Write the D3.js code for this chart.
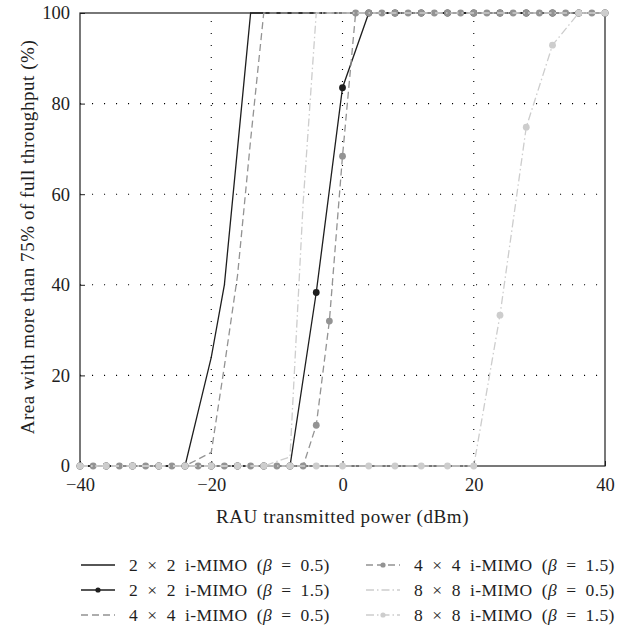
<!DOCTYPE html>
<html>
<head>
<meta charset="utf-8">
<script src="https://cdn.jsdelivr.net/npm/d3@7"></script>
<style>
  body { margin: 0; background: #fff; }
  text { font-family: "Liberation Serif", "Times New Roman", serif; fill: #1e1e1e; }
</style>
</head>
<body>
<svg id="chart" width="631" height="631"></svg>
<script>
// x values (dBm) used by the series
var power2 = [-40,-38,-36,-34,-32,-30,-28,-26,-24,-22,-20,-18,-16,-14,-12,-10,-8,-6,-4,-2,
              0,2,4,6,8,10,12,14,16,18,20,22,24,26,28,30,32,34,36,38,40];
var power4 = [-40,-36,-32,-28,-24,-20,-16,-12,-8,-4,0,4,8,12,16,20,24,28,32,36,40];

// area (%) with more than 75% of full throughput
var mimo2b05 = [0,0,0,0,0,0,0,0,0,12,24,40,70,100,100,100,100,100,100,100,
                100,100,100,100,100,100,100,100,100,100,100,100,100,100,100,100,100,100,100,100,100];
var mimo2b15 = [0,0,0,0,0,0,0,0,0,38.3,83.5,100,100,100,100,100,100,100,100,100,100];
var mimo4b05 = [0,0,0,0,0,0,0,0,0,1.5,3,22,42,72,100,100,100,100,100,100,
                100,100,100,100,100,100,100,100,100,100,100,100,100,100,100,100,100,100,100,100,100];
var mimo4b15 = [0,0,0,0,0,0,0,0,0,0,0,0,0,0,0,0,0,0,9,32,
                68.4,100,100,100,100,100,100,100,100,100,100,100,100,100,100,100,100,100,100,100,100];
var mimo8b05 = [0,0,0,0,0,0,0,0,0,0,0,0,0,0,0,1,2,58,100,100,
                100,100,100,100,100,100,100,100,100,100,100,100,100,100,100,100,100,100,100,100,100];
var mimo8b15 = [0,0,0,0,0,0,0,0,0,0,0,0,0,0,0,0,33.3,74.8,92.9,100,100];

var xTicks = [-40,-20,0,20,40];
var yTicks = [0,20,40,60,80,100];
var xGrid = [-20,0,20];
var yGrid = [20,40,60,80];

var seriesNames = ["2 \u00d7 2 i-MIMO (\u03b2 = 0.5)", "2 \u00d7 2 i-MIMO (\u03b2 = 1.5)",
                   "4 \u00d7 4 i-MIMO (\u03b2 = 0.5)", "4 \u00d7 4 i-MIMO (\u03b2 = 1.5)",
                   "8 \u00d7 8 i-MIMO (\u03b2 = 0.5)", "8 \u00d7 8 i-MIMO (\u03b2 = 1.5)"];

var black = "#1e1e1e", mid = "#939393", light = "#cdcdcd";
var series = [
  {name: seriesNames[0], xs: power2, ys: mimo2b05, color: black, dash: null, marker: false},
  {name: seriesNames[1], xs: power4, ys: mimo2b15, color: black, dash: null, marker: true},
  {name: seriesNames[2], xs: power2, ys: mimo4b05, color: mid, dash: "7,4", marker: false},
  {name: seriesNames[3], xs: power2, ys: mimo4b15, color: mid, dash: "7,4", marker: true},
  {name: seriesNames[4], xs: power2, ys: mimo8b05, color: light, dash: "8,3,1.5,3", marker: false},
  {name: seriesNames[5], xs: power4, ys: mimo8b15, color: light, dash: "8,3,1.5,3", marker: true}
];

var svg = d3.select("#chart");
var plotL = 80, plotR = 605, plotT = 13, plotB = 466;
var x = d3.scaleLinear().domain([-40, 40]).range([plotL, plotR]);
var y = d3.scaleLinear().domain([0, 100]).range([plotB, plotT]);

// dotted grid
var grid = svg.append("g").attr("id", "grid");
grid.selectAll(".gx").data(xGrid).enter().append("line")
  .attr("x1", d => x(d)).attr("x2", d => x(d)).attr("y1", plotB).attr("y2", plotT)
  .attr("stroke", "#000").attr("stroke-width", 1.1).attr("stroke-dasharray", "1.1,10.9");
grid.selectAll(".gy").data(yGrid).enter().append("line")
  .attr("x1", plotL).attr("x2", plotR).attr("y1", d => y(d)).attr("y2", d => y(d))
  .attr("stroke", "#000").attr("stroke-width", 1.1).attr("stroke-dasharray", "1.1,10.9");

// axes
var xAxis = d3.axisBottom(x).tickValues(xTicks).tickSizeInner(-5).tickSizeOuter(0).tickPadding(12);
var yAxis = d3.axisLeft(y).tickValues(yTicks).tickSizeInner(-5).tickSizeOuter(0).tickPadding(10);
var gx = svg.append("g").attr("transform", "translate(0," + plotB + ")").call(xAxis);
var gy = svg.append("g").attr("transform", "translate(" + plotL + ",0)").call(yAxis);
[gx, gy].forEach(function(g){
  g.select(".domain").remove();
  g.selectAll(".tick line").attr("stroke", black).attr("stroke-width", 1);
  g.selectAll(".tick text").style("font-size", "18.5px").attr("fill", black)
    .style("font-family", '"Liberation Serif", serif');
});

svg.append("rect").attr("x", plotL).attr("y", plotT)
  .attr("width", plotR - plotL).attr("height", plotB - plotT)
  .attr("fill", "none").attr("stroke", black).attr("stroke-width", 1.2);

// data
var line = d3.line().x(d => x(d[0])).y(d => y(d[1]));
series.forEach(function(s){
  var pts = s.xs.map(function(v, i){ return [v, s.ys[i]]; });
  var g = svg.append("g");
  g.append("path").attr("d", line(pts))
    .attr("fill", "none").attr("stroke", s.color).attr("stroke-width", 1.3)
    .attr("stroke-dasharray", s.dash);
  if (s.marker) {
    g.selectAll("circle").data(pts).enter().append("circle")
      .attr("cx", d => x(d[0])).attr("cy", d => y(d[1])).attr("r", 3.4)
      .attr("fill", s.color);
  }
});

// axis titles
svg.append("text").attr("x", (plotL + plotR) / 2).attr("y", 523)
  .attr("text-anchor", "middle").style("font-size", "19px").style("letter-spacing", "0.6px")
  .text("RAU transmitted power (dBm)");
svg.append("text").attr("transform", "translate(34,237) rotate(-90)")
  .attr("text-anchor", "middle").style("font-size", "19px").style("letter-spacing", "0.55px")
  .text("Area with more than 75% of full throughput (%)");

// legend (column-wise, 3 rows)
var legX = [80, 365], legY = [565, 590, 615];
var leg = svg.append("g").attr("id", "legend");
series.forEach(function(s, i){
  var cx = legX[Math.floor(i / 3)], cy = legY[i % 3];
  var it = leg.append("g").attr("transform", "translate(" + cx + "," + cy + ")");
  it.append("line").attr("x1", 1).attr("x2", 35).attr("y1", 0).attr("y2", 0)
    .attr("stroke", s.color).attr("stroke-width", 1.3).attr("stroke-dasharray", s.dash);
  if (s.marker) it.append("circle").attr("cx", 18).attr("cy", 0).attr("r", 2.6).attr("fill", s.color);
  var t = it.append("text").attr("x", 49).attr("y", 6)
    .style("font-size", "17.5px").style("word-spacing", "4.5px").style("letter-spacing", "0.35px");
  var parts = s.name.split("\u03b2");
  t.append("tspan").text(parts[0]);
  t.append("tspan").style("font-style", "italic").text("\u03b2");
  t.append("tspan").text(parts[1]);
});
</script>
</body>
</html>
